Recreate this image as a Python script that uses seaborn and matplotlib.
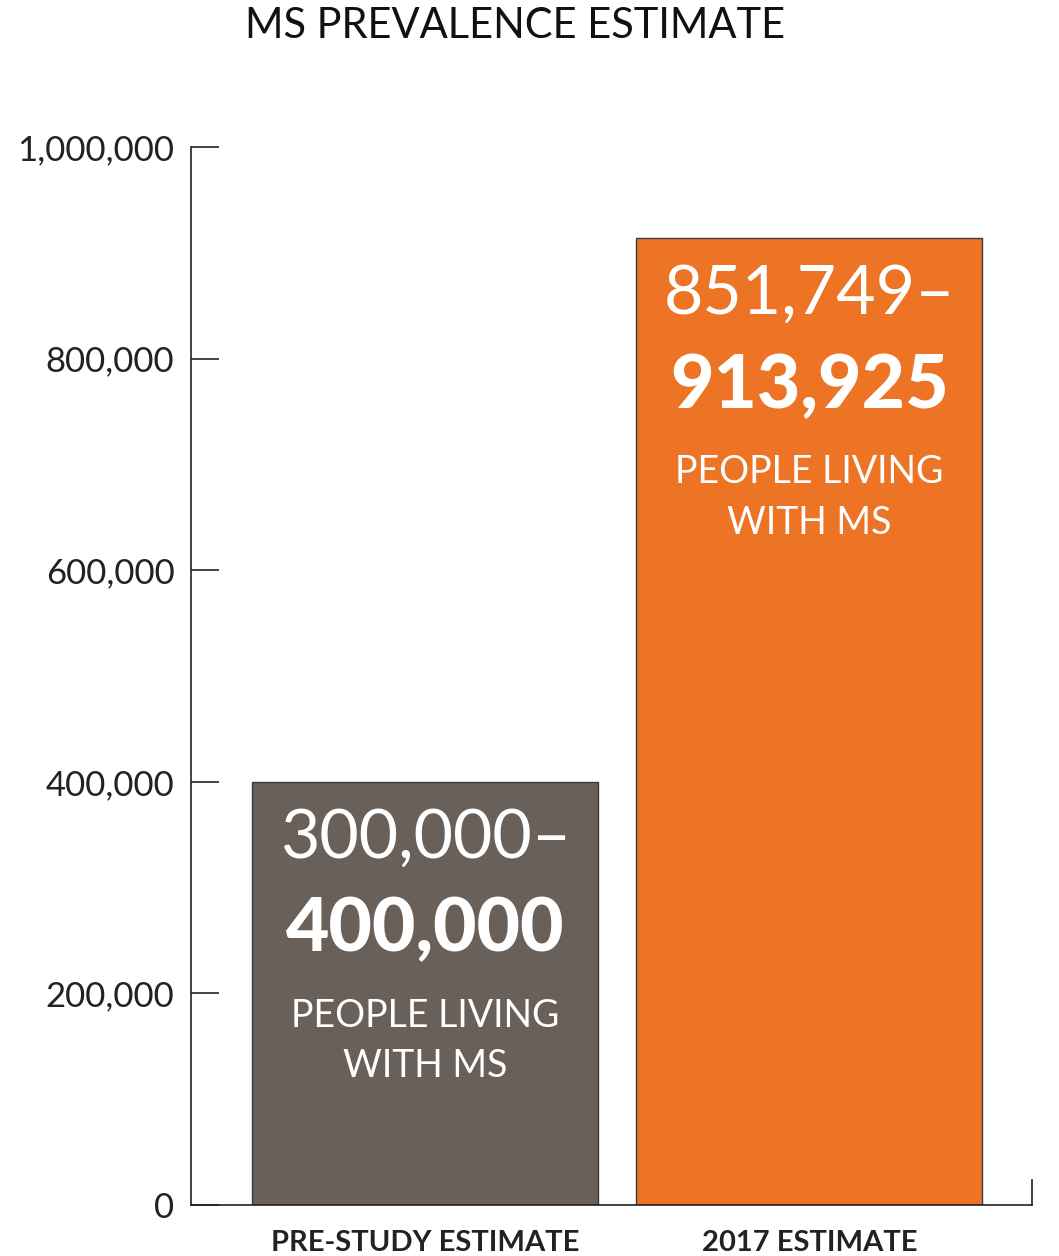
import matplotlib
matplotlib.use("Agg")
import matplotlib.pyplot as plt
import seaborn as sns

# data
categories = ["PRE-STUDY ESTIMATE", "2017 ESTIMATE"]
values = [400000, 913925]
low_labels = ["300,000–", "851,749–"]
high_labels = ["400,000", "913,925"]
bar_colors = ["#6A605A", "#EC7424"]
y_ticks = [0, 200000, 400000, 600000, 800000, 1000000]

sns.set_style("white")
plt.rcParams["font.family"] = ["Lato", "DejaVu Sans"]

fig = plt.figure(figsize=(10.59, 12.56), dpi=100)
ax = fig.add_axes([0.1804, 0.0406, 0.7941, 0.8424])

sns.barplot(x=categories, y=values, hue=categories, palette=bar_colors,
            saturation=1, width=0.9, edgecolor="#3a3a3a", linewidth=1,
            legend=False, ax=ax)

ax.set_ylim(0, 1000000)
ax.set_xlim(-0.61, 1.58)
ax.set_yticks(y_ticks)
ax.set_yticklabels([f"{v:,}" for v in y_ticks])
ax.tick_params(axis="y", left=True, direction="in", length=20, width=1.2,
               labelsize=25, pad=12, colors="#222222", labelcolor="#222222")
ax.tick_params(axis="x", bottom=False, length=0, labelsize=21, pad=18,
               labelcolor="#222222")
for lab in ax.get_xticklabels():
    lab.set_fontweight("bold")

for side in ["left", "bottom", "right"]:
    ax.spines[side].set_visible(True)
    ax.spines[side].set_color("#222222")
    ax.spines[side].set_linewidth(1.2)
ax.spines["top"].set_visible(False)
ax.spines["right"].set_bounds(0, 24000)
ax.set_xlabel("")
ax.set_ylabel("")

# text inside the bars
for i, v in enumerate(values):
    ax.text(i, v - 54000, low_labels[i], ha="center", va="center",
            color="white", fontsize=49)
    ax.text(i, v - 140000, high_labels[i], ha="center", va="center",
            color="white", fontsize=54, fontweight="black")
    ax.text(i, v - 221000, "PEOPLE LIVING", ha="center", va="center",
            color="white", fontsize=27)
    ax.text(i, v - 269000, "WITH MS", ha="center", va="center",
            color="white", fontsize=27)

fig.text(0.486, 0.979, "MS PREVALENCE ESTIMATE", ha="center", va="center",
         fontsize=30, color="#111111")

fig.savefig("out.png", dpi=100)
